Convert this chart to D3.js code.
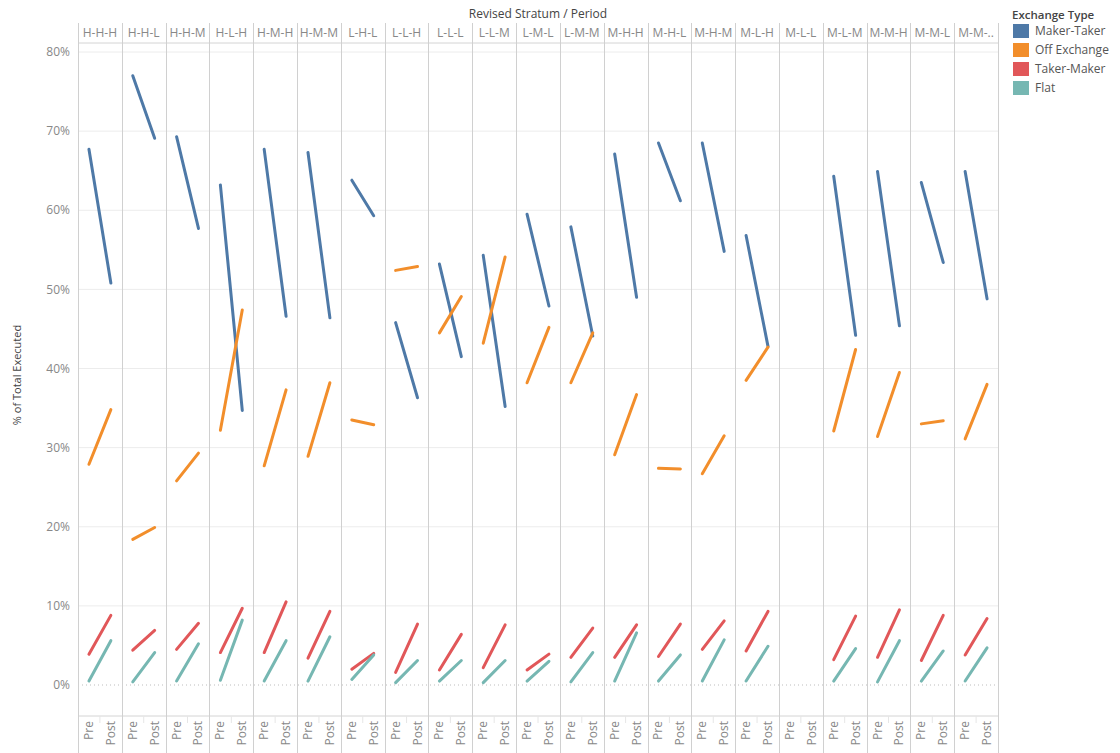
<!DOCTYPE html>
<html>
<head>
<meta charset="utf-8">
<title>Exchange type share by stratum</title>
<style>
  body { margin: 0; background: #fff; }
  text { font-family: "Open Sans", "Noto Sans", sans-serif; }
</style>
</head>
<body>
<script src="https://cdn.jsdelivr.net/npm/d3@7"></script>
<script>
// strata (columns) and periods inside each column
var strata = ["H-H-H","H-H-L","H-H-M","H-L-H","H-M-H","H-M-M","L-H-L","L-L-H","L-L-L","L-L-M",
              "L-M-L","L-M-M","M-H-H","M-H-L","M-H-M","M-L-H","M-L-L","M-L-M","M-M-H","M-M-L","M-M-M"];
var periods = ["Pre", "Post"];
var seriesNames = ["Maker-Taker", "Off Exchange", "Taker-Maker", "Flat"];
var seriesColors = ["#4e79a7", "#f28e2b", "#e15759", "#76b7b2"];
var yTicks = [0, 10, 20, 30, 40, 50, 60, 70, 80];

// % of total executed, [Pre, Post] per stratum (null = no data)
var makerTaker = [[67.7,50.8],[77.0,69.1],[69.3,57.7],[63.2,34.7],[67.7,46.6],[67.3,46.4],[63.8,59.3],
                  [45.8,36.3],[53.2,41.5],[54.3,35.2],[59.5,47.9],[57.9,44.1],[67.1,49.0],[68.5,61.2],
                  [68.5,54.8],[56.8,42.8],null,[64.3,44.2],[64.9,45.4],[63.5,53.4],[64.9,48.8]];
var offExchange = [[27.9,34.8],[18.4,19.9],[25.8,29.3],[32.2,47.4],[27.7,37.3],[28.9,38.2],[33.5,32.9],
                   [52.4,52.9],[44.5,49.1],[43.2,54.1],[38.2,45.2],[38.2,44.5],[29.1,36.7],[27.4,27.3],
                   [26.7,31.5],[38.5,42.7],null,[32.1,42.4],[31.4,39.5],[33.0,33.4],[31.1,38.0]];
var takerMaker = [[3.9,8.8],[4.4,6.9],[4.5,7.8],[4.1,9.7],[4.1,10.5],[3.4,9.3],[2.0,4.0],
                  [1.6,7.7],[1.9,6.4],[2.2,7.6],[1.9,3.9],[3.5,7.2],[3.5,7.6],[3.6,7.7],
                  [4.5,8.1],[4.3,9.3],null,[3.2,8.7],[3.5,9.5],[3.1,8.8],[3.8,8.4]];
var flat = [[0.5,5.6],[0.4,4.1],[0.5,5.2],[0.6,8.2],[0.5,5.6],[0.5,6.1],[0.7,3.8],
            [0.3,3.1],[0.5,3.1],[0.3,3.1],[0.5,3.0],[0.4,4.1],[0.5,6.6],[0.5,3.8],
            [0.5,5.7],[0.5,4.9],null,[0.5,4.6],[0.4,5.6],[0.5,4.3],[0.5,4.7]];
var seriesValues = [makerTaker, offExchange, takerMaker, flat];

var W = 1120, H = 753;
var left = 78, right = 998, headTop = 23, plotTop = 43, plotBottom = 716;

var svg = d3.select("body").append("svg").attr("width", W).attr("height", H);

var x = d3.scaleBand().domain(strata).range([left, right]);
var xi = d3.scaleBand().domain(periods).range([0, x.bandwidth()]);
var y = d3.scaleLinear().domain([0, 80]).range([685, 52]);

// horizontal gridlines
svg.append("g").selectAll("line")
  .data(yTicks.filter(function(d){ return d > 0; }))
  .enter().append("line")
  .attr("x1", left).attr("x2", right)
  .attr("y1", function(d){ return y(d); }).attr("y2", function(d){ return y(d); })
  .attr("stroke", "#ececec").attr("stroke-width", 1);

// zero line dotted
svg.append("line")
  .attr("x1", left).attr("x2", right).attr("y1", y(0)).attr("y2", y(0))
  .attr("stroke", "#bdbdbd").attr("stroke-width", 1).attr("stroke-dasharray", "1,3");

// header / bottom separators
svg.append("line").attr("x1", left).attr("x2", right).attr("y1", plotTop).attr("y2", plotTop)
  .attr("stroke", "#d4d4d4");
svg.append("line").attr("x1", left).attr("x2", right).attr("y1", plotBottom).attr("y2", plotBottom)
  .attr("stroke", "#d4d4d4");

// panel dividers
var bounds = strata.map(function(s){ return x(s); }).concat([right]);
svg.append("g").selectAll("line").data(bounds).enter().append("line")
  .attr("x1", function(d){ return Math.round(d) + 0.5; })
  .attr("x2", function(d){ return Math.round(d) + 0.5; })
  .attr("y1", headTop).attr("y2", H)
  .attr("stroke", "#d0d0d0").attr("stroke-width", 1);

// small ticks between Pre / Post
svg.append("g").selectAll("line").data(strata).enter().append("line")
  .attr("x1", function(d){ return x(d) + x.bandwidth()/2; })
  .attr("x2", function(d){ return x(d) + x.bandwidth()/2; })
  .attr("y1", plotBottom).attr("y2", plotBottom + 7)
  .attr("stroke", "#e6e6e6");

// y axis tick labels
svg.append("g").selectAll("text").data(yTicks).enter().append("text")
  .attr("x", 70).attr("y", function(d){ return y(d); }).attr("dy", "0.35em")
  .attr("text-anchor", "end").attr("font-size", 12).attr("fill", "#888")
  .text(function(d){ return d + "%"; });

svg.append("text")
  .attr("transform", "translate(21," + 375 + ") rotate(-90)")
  .attr("text-anchor", "middle").attr("font-size", 11).attr("fill", "#444")
  .text("% of Total Executed");

// title above columns
svg.append("text")
  .attr("x", (left + right)/2).attr("y", 18)
  .attr("text-anchor", "middle").attr("font-size", 12).attr("fill", "#444")
  .text("Revised Stratum / Period");

// column headers (truncated when they don't fit)
svg.append("g").selectAll("text").data(strata).enter().append("text")
  .attr("x", function(d){ return x(d) + x.bandwidth()/2; }).attr("y", 37)
  .attr("text-anchor", "middle").attr("font-size", 12).attr("fill", "#888")
  .text(function(d){ return d; })
  .each(function(d){
    var t = d3.select(this), s = d;
    while (this.getComputedTextLength() > x.bandwidth() - 5 && s.length > 1) {
      s = s.slice(0, -1);
      t.text(s + "..");
    }
  });

// period labels (rotated)
strata.forEach(function(s){
  svg.append("g").selectAll("text").data(periods).enter().append("text")
    .attr("transform", function(p){
      return "translate(" + (x(s) + xi(p) + xi.bandwidth()/2 + 4) + "," + (plotBottom + 5) + ") rotate(-90)";
    })
    .attr("text-anchor", "end").attr("font-size", 12).attr("fill", "#888")
    .text(function(p){ return p; });
});

// lines
var line = d3.line()
  .x(function(d, i){ return xi(periods[i]) + xi.bandwidth()/2; })
  .y(function(d){ return y(d); });

var marks = svg.append("g");
seriesValues.forEach(function(vals, k){
  strata.forEach(function(s, i){
    if (!vals[i]) return;
    marks.append("path")
      .attr("transform", "translate(" + x(s) + ",0)")
      .attr("d", line(vals[i]))
      .attr("fill", "none")
      .attr("stroke", seriesColors[k])
      .attr("stroke-width", 3)
      .attr("stroke-linecap", "round");
  });
});

// legend
var lg = svg.append("g").attr("transform", "translate(1012,0)");
lg.append("text").attr("x", 0).attr("y", 19)
  .attr("font-size", 11.5).attr("font-weight", "600").attr("fill", "#444")
  .text("Exchange Type");
seriesNames.forEach(function(n, i){
  lg.append("rect").attr("x", 1).attr("y", 24 + i*19).attr("width", 16).attr("height", 14)
    .attr("fill", seriesColors[i]);
  lg.append("text").attr("x", 23).attr("y", 31 + i*19).attr("dy", "0.35em")
    .attr("font-size", 12).attr("fill", "#555").text(n);
});
</script>
</body>
</html>
